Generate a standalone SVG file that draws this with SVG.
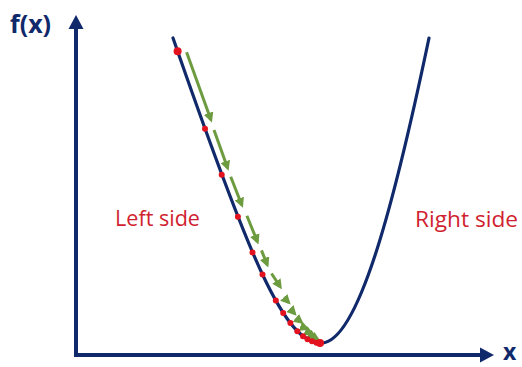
<svg xmlns="http://www.w3.org/2000/svg" width="522" height="367" viewBox="0 0 522 367">
<defs>
<style>
.axis{stroke:#10296a;stroke-width:4;fill:none}
.curve{stroke:#10296a;stroke-width:3.2;fill:none;stroke-linecap:round}
.step{stroke:#6d9b3f;stroke-width:3;fill:none;marker-end:url(#ah)}
.dot{fill:#e3121e}
.lbl{font-family:"Open Sans","Liberation Sans",sans-serif;font-size:22px;fill:#d01f30}
.ax{font-family:"Open Sans","Liberation Sans",sans-serif;font-weight:bold;font-size:25px;fill:#10296a}
</style>
<marker id="ah" viewBox="0 0 10 10" refX="7" refY="5" markerWidth="10" markerHeight="10" markerUnits="userSpaceOnUse" orient="auto">
<path d="M0,0 L10,5 L0,10 z" fill="#6d9b3f"/>
</marker>
</defs>
<rect width="522" height="367" fill="#ffffff"/>
<g id="axes">
<line class="axis" x1="76" y1="357" x2="76" y2="27"/>
<polygon points="76,15 68.5,29 83.5,29" fill="#10296a"/>
<line class="axis" x1="74" y1="355" x2="482" y2="355"/>
<polygon points="494,355 480,347.5 480,362.5" fill="#10296a"/>
<text class="ax" x="10" y="33">f(x)</text>
<text class="ax" x="503" y="360" style="font-size:23px">x</text>
</g>
<g id="curve">
<path class="curve" d="M173,38 C250,260 285,345 322,343 C359,341 395,200 429,38"/>
</g>
<g id="connectors">
<line class="step" x1="186.6" y1="52.2" x2="210.9" y2="119.8"/>
<line class="step" x1="214" y1="130" x2="227.6" y2="168"/>
<line class="step" x1="230.7" y1="176.8" x2="241.8" y2="205"/>
<line class="step" x1="246.9" y1="215.8" x2="257.4" y2="241.6"/>
<line class="step" x1="261.5" y1="250.4" x2="267.2" y2="264.7"/>
<line class="step" x1="271.5" y1="273.5" x2="280.2" y2="286.8"/>
<line class="step" x1="283.8" y1="297.4" x2="288.6" y2="302.4"/>
<line class="step" x1="291.2" y1="309.9" x2="294.6" y2="313.6"/>
<line class="step" x1="297.4" y1="319" x2="301.3" y2="322.2"/>
<line class="step" x1="303.3" y1="327.2" x2="307" y2="328.6"/>
<line class="step" x1="308" y1="332.2" x2="311.5" y2="334"/>
<line class="step" x1="312" y1="335.5" x2="315" y2="337"/>
<line class="step" x1="315.5" y1="338.5" x2="318" y2="340"/>
</g>
<g id="dots">
<circle class="dot" cx="177.6" cy="51.2" r="4"/>
<circle class="dot" cx="205" cy="128.8" r="3"/>
<circle class="dot" cx="221.7" cy="174.8" r="3"/>
<circle class="dot" cx="237.9" cy="216.8" r="3"/>
<circle class="dot" cx="252.5" cy="252.4" r="3"/>
<circle class="dot" cx="262.5" cy="274.5" r="3"/>
<circle class="dot" cx="275.8" cy="300.4" r="3"/>
<circle class="dot" cx="283.2" cy="312.9" r="3"/>
<circle class="dot" cx="290.4" cy="323" r="3"/>
<circle class="dot" cx="297.3" cy="331.2" r="3"/>
<circle class="dot" cx="303" cy="336.2" r="3"/>
<circle class="dot" cx="307.5" cy="339.3" r="3"/>
<circle class="dot" cx="312" cy="341.3" r="3"/>
<circle class="dot" cx="316.5" cy="342.7" r="3"/>
<circle class="dot" cx="320" cy="343" r="4"/>
</g>
<g id="labels">
<text class="lbl" x="115" y="226" textLength="85" lengthAdjust="spacingAndGlyphs">Left side</text>
<text class="lbl" x="415" y="227" textLength="103" lengthAdjust="spacingAndGlyphs">Right side</text>
</g>
</svg>
